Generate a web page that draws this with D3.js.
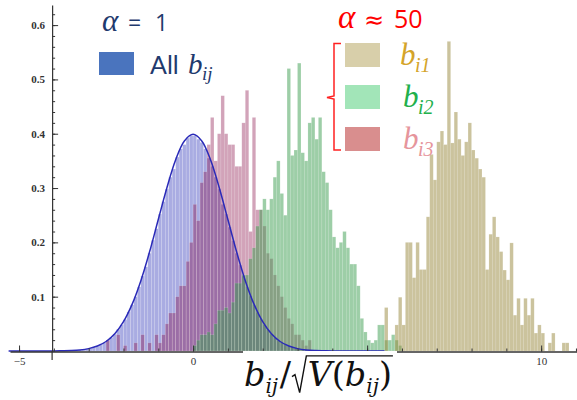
<!DOCTYPE html>
<html><head><meta charset="utf-8">
<script src="https://cdn.jsdelivr.net/npm/d3@7"></script>
<style>
body{margin:0;background:#fff;}
svg{display:block;}
</style></head><body>
<svg id="c" width="577" height="400"></svg>
<script>
// ---------- data ----------
const binWidth = 0.1;

// All b_ij (alpha = 1), bins start at -4.0
const allStart = -4.0;
const allValues = [
 0.0002,0.0002,0.0004,0.0005,0.0007,0.001,0.0015,0.002,0.003,0.004,
 0.005,0.007,0.009,0.012,0.015,0.02,0.025,0.031,0.040,0.048,
 0.058,0.072,0.085,0.100,0.118,0.138,0.155,0.180,0.204,0.225,
 0.252,0.275,0.298,0.320,0.335,0.357,0.372,0.380,0.392,0.396,
 0.396,0.390,0.384,0.372,0.355,0.340,0.320,0.298,0.270,0.252,
 0.228,0.203,0.180,0.158,0.138,0.118,0.101,0.085,0.071,0.059,
 0.048,0.039,0.031,0.025,0.019,0.015,0.012,0.009,0.007,0.005,
 0.004,0.003,0.002,0.0014,0.001,0.0007,0.0005,0.0004,0.0002,0.0002
];

// b_i3, bins start at -2.5
const bi3Start = -2.5;
const bi3Values = [
 0.02,0,0,0.03,0,0.01,0,0,0.015,0,
 0.03,0,0.015,0,0.03,0.015,0.03,0.05,0.07,0.07,
 0.10,0.12,0.12,0.165,0.20,0.27,0.24,0.31,0.33,0.38,
 0.43,0.35,0.40,0.47,0.40,0.38,0.38,0.34,0.34,0.42,
 0.48,0.22,0.43,0.26,0.26,0.23,0.18,0.17,0.14,0.12,
 0.10,0.08,0.06,0.05,0.03,0.03,0.02,0.01,0.02
];

// b_i2, bins start at 0.0
const bi2Start = 0.0;
const bi2Values = [
 0.01,0.02,0.03,0.03,0.035,0.03,0.05,0.075,0.075,0.08,
 0.07,0.09,0.125,0.125,0.14,0.14,0.17,0.19,0.23,0.26,
 0.28,0.26,0.28,0.32,0.35,0.29,0.25,0.52,0.36,0.37,
 0.53,0.365,0.35,0.42,0.43,0.39,0.43,0.33,0.31,0.26,
 0.21,0.19,0.20,0.22,0.19,0.16,0.16,0.12,0.06,0.035,
 0.02,0.015,0.02,0.048,0.048,0.02,0.02,0.03,0.02,0.01
];

// b_i1, bins start at 5.5
const bi1Start = 5.5;
const bi1Values = [
 0.08,0,0,0.048,0.099,0.048,0.20,0.20,0.135,0.20,
 0.15,0.15,0.247,0.362,0.315,0.385,0.405,0.38,0.57,0.383,
 0.44,0.39,0.36,0.385,0.42,0.37,0.355,0.335,0.32,0.15,
 0.215,0.247,0.21,0.183,0.149,0.131,0.199,0.066,0.097,0.048,
 0.097,0.066,0.097,0.033,0.048,0.033,0,0.015,0.033,0,
 0,0.015,0.015
];

// standard normal density curve, read at 0.25 steps
const normalCurve = [
 [-5.3,0],[-5,0],[-4.5,0],[-4,0.0001],[-3.75,0.0004],[-3.5,0.0009],[-3.25,0.002],[-3,0.0044],
 [-2.75,0.0091],[-2.5,0.0175],[-2.25,0.0317],[-2,0.054],[-1.75,0.0863],[-1.5,0.1295],
 [-1.25,0.1826],[-1,0.242],[-0.75,0.3011],[-0.5,0.3521],[-0.25,0.3867],[0,0.3989],
 [0.25,0.3867],[0.5,0.3521],[0.75,0.3011],[1,0.242],[1.25,0.1826],[1.5,0.1295],
 [1.75,0.0863],[2,0.054],[2.25,0.0317],[2.5,0.0175],[2.75,0.0091],[3,0.0044],
 [3.25,0.002],[3.5,0.0009],[3.75,0.0004],[4,0.0001],[4.5,0],[5,0],[5.5,0]
];

const yTickValues = [0.1,0.2,0.3,0.4,0.5,0.6];
const xTickLabels = [-5,0,5,10];

// ---------- chart ----------
const svg = d3.select('#c');
const x = d3.scaleLinear().domain([-5.26, 11.03]).range([10, 577]);
const y = d3.scaleLinear().domain([0, 0.637]).range([351, 5]);
const yAxisAt = -4.05;

const series = [
  {start: allStart, values: allValues, color: 'rgb(169,172,226)', op: 1},
  {start: bi3Start, values: bi3Values, color: 'rgb(129,0,61)', op: 0.36},
  {start: bi2Start, values: bi2Values, color: 'rgb(60,158,80)', op: 0.5},
  {start: bi1Start, values: bi1Values, color: 'rgb(151,135,59)', op: 0.5}
];

series.forEach(s => {
  const g = svg.append('g');
  g.selectAll('rect').data(s.values.map((v, i) => ({x0: s.start + i * binWidth, v})).filter(d => d.v > 0))
    .join('rect')
    .attr('x', d => x(d.x0))
    .attr('width', d => x(d.x0 + binWidth) - x(d.x0))
    .attr('y', d => y(d.v))
    .attr('height', d => y(0) - y(d.v))
    .attr('fill', s.color).attr('fill-opacity', s.op)
    .attr('stroke', '#ffffff').attr('stroke-opacity', 0.25).attr('stroke-width', 0.5);
});

// normal curve
svg.append('path')
  .datum(normalCurve)
  .attr('d', d3.line().x(d => x(d[0])).y(d => y(d[1])).curve(d3.curveCatmullRom))
  .attr('fill', 'none').attr('stroke', '#2a2ab8').attr('stroke-width', 1.5);

// x axis
const xMinor = d3.range(-5, 12, 1);
const gx = svg.append('g').attr('transform', `translate(0,${y(0) + 0.5})`);
gx.call(d3.axisBottom(x).tickValues(xMinor).tickSize(-3).tickSizeOuter(0).tickFormat(''));
gx.select('.domain').attr('stroke', '#333').attr('stroke-width', 1.3);
gx.selectAll('.tick line').attr('stroke', '#333');
const gx2 = svg.append('g').attr('transform', `translate(0,${y(0) + 0.5})`);
gx2.call(d3.axisBottom(x).tickValues(xTickLabels).tickSize(-6).tickPadding(6)
  .tickFormat(d => d < 0 ? '\u2212' + Math.abs(d) : d));
gx2.select('.domain').remove();
gx2.selectAll('.tick line').attr('stroke', '#333');
gx2.selectAll('.tick text').attr('font-family', 'Liberation Serif').attr('font-size', 11).attr('fill', '#333');

// y axis
const yMinor = d3.range(0.02, 0.63, 0.02);
const gy = svg.append('g').attr('transform', `translate(${x(yAxisAt)},0)`);
gy.call(d3.axisLeft(y).tickValues(yMinor).tickSize(-3).tickSizeOuter(0).tickFormat(''));
gy.select('.domain').attr('stroke', '#333').attr('stroke-width', 1.2);
gy.selectAll('.tick line').attr('stroke', '#333');
const gy2 = svg.append('g').attr('transform', `translate(${x(yAxisAt)},0)`);
gy2.call(d3.axisLeft(y).tickValues(yTickValues).tickSize(-6).tickPadding(7).tickFormat(d3.format('.1f')));
gy2.select('.domain').remove();
gy2.selectAll('.tick line').attr('stroke', '#333');
gy2.selectAll('.tick text').attr('font-family', 'Liberation Serif').attr('font-size', 11).attr('fill', '#333').attr('font-weight', 'bold');
svg.append('line').attr('x1', x(yAxisAt)).attr('x2', x(yAxisAt)).attr('y1', y(0)).attr('y2', 360)
  .attr('stroke', '#333').attr('stroke-width', 1.2);

// x-axis title with white box
svg.append('rect').attr('x', 243).attr('y', 351).attr('width', 154).attr('height', 49).attr('fill', '#fff');
function drawTitle(tg, x0, base, fs) {
  let cx = x0;
  const sub = fs * 0.6;
  const piece = (t, size, italic, dy) => {
    const el = tg.append('text').attr('x', cx).attr('y', base + dy)
      .attr('font-size', size).attr('font-style', italic ? 'italic' : 'normal').text(t);
    cx += el.node().getComputedTextLength();
  };
  piece('b', fs, true, 0);
  piece('ij', sub, true, fs * 0.2);
  cx += fs * 0.05;
  piece('/', fs, false, 0);
  const rx = cx;
  cx += fs * 0.5;
  piece('V', fs, true, 0);
  piece('(', fs, false, 0);
  piece('b', fs, true, 0);
  piece('ij', sub, true, fs * 0.2);
  piece(')', fs, false, 0);
  tg.append('path')
    .attr('d', `M${rx + 1},${base - fs * 0.28} L${rx + fs * 0.12},${base - fs * 0.34} L${rx + fs * 0.26},${base + fs * 0.2} L${rx + fs * 0.46},${base - fs * 0.9} L${cx + 1},${base - fs * 0.9}`)
    .attr('fill', 'none').attr('stroke', '#111').attr('stroke-width', 1.4);
  return cx - x0;
}
const probe = svg.append('g').attr('font-family', 'DejaVu Serif').attr('visibility', 'hidden');
const wProbe = drawTitle(probe, 0, 0, 30);
probe.remove();
const titleFs = 30 * 148 / wProbe;
const tg = svg.append('g').attr('font-family', 'DejaVu Serif').attr('fill', '#111');
drawTitle(tg, 244, 386, titleFs);

// ---------- legends ----------
const navy = '#1f3a6e';
svg.append('text').attr('x', 102).attr('y', 31).attr('font-family', 'Liberation Serif').attr('font-style', 'italic')
  .attr('font-size', 31).attr('fill', navy).text('\u03b1');
svg.append('text').attr('x', 128).attr('y', 31).attr('font-family', 'Open Sans').attr('font-size', 23).attr('fill', navy).text('=');
svg.append('text').attr('x', 155).attr('y', 31).attr('font-family', 'Open Sans').attr('font-size', 23).attr('fill', navy).text('1');
svg.append('rect').attr('x', 99).attr('y', 52).attr('width', 35).attr('height', 23).attr('fill', '#4a74be');
svg.append('text').attr('x', 150).attr('y', 74).attr('font-family', 'Lato').attr('font-size', 25).attr('fill', navy).text('All');
svg.append('text').attr('x', 188).attr('y', 74).attr('font-family', 'Liberation Serif').attr('font-style', 'italic')
  .attr('font-size', 29).attr('fill', navy).text('b');
svg.append('text').attr('x', 202).attr('y', 80).attr('font-family', 'Liberation Serif').attr('font-style', 'italic')
  .attr('font-size', 19).attr('fill', navy).text('ij');

svg.append('text').attr('x', 338).attr('y', 28).attr('font-family', 'Liberation Serif').attr('font-style', 'italic')
  .attr('font-size', 33).attr('fill', '#ff0000').text('\u03b1');
svg.append('text').attr('x', 364).attr('y', 28).attr('font-family', 'DejaVu Sans').attr('font-size', 24).attr('fill', '#ff0000').text('\u2248');
svg.append('text').attr('x', 394).attr('y', 28).attr('font-family', 'Open Sans').attr('font-size', 25).attr('fill', '#ff0000').text('50');
svg.append('path').attr('d', 'M341,43.5 L334,43.5 L334,96 L327,97.5 L334,99 L334,150 L341,150')
  .attr('fill', 'none').attr('stroke', '#ff2020').attr('stroke-width', 1.5);

const legendItems = [
  {sw: '#d8cfaa', tc: '#d4a42a', sub: 'i1', top: 43},
  {sw: '#a2e5b8', tc: '#22b04c', sub: 'i2', top: 85},
  {sw: '#d98e8e', tc: '#e6959c', sub: 'i3', top: 127}
];
legendItems.forEach((d, i) => {
  svg.append('rect').attr('x', 345).attr('y', d.top).attr('width', 35).attr('height', 24).attr('fill', d.sw);
  const lx = i === 0 ? 400 : 403;
  svg.append('text').attr('x', lx).attr('y', d.top + 22).attr('font-family', 'Liberation Serif').attr('font-style', 'italic')
    .attr('font-size', 31).attr('fill', d.tc).text('b');
  svg.append('text').attr('x', lx + 15).attr('y', d.top + 29).attr('font-family', 'Liberation Serif').attr('font-style', 'italic')
    .attr('font-size', 20).attr('fill', d.tc).text(d.sub);
});
</script>
</body></html>
